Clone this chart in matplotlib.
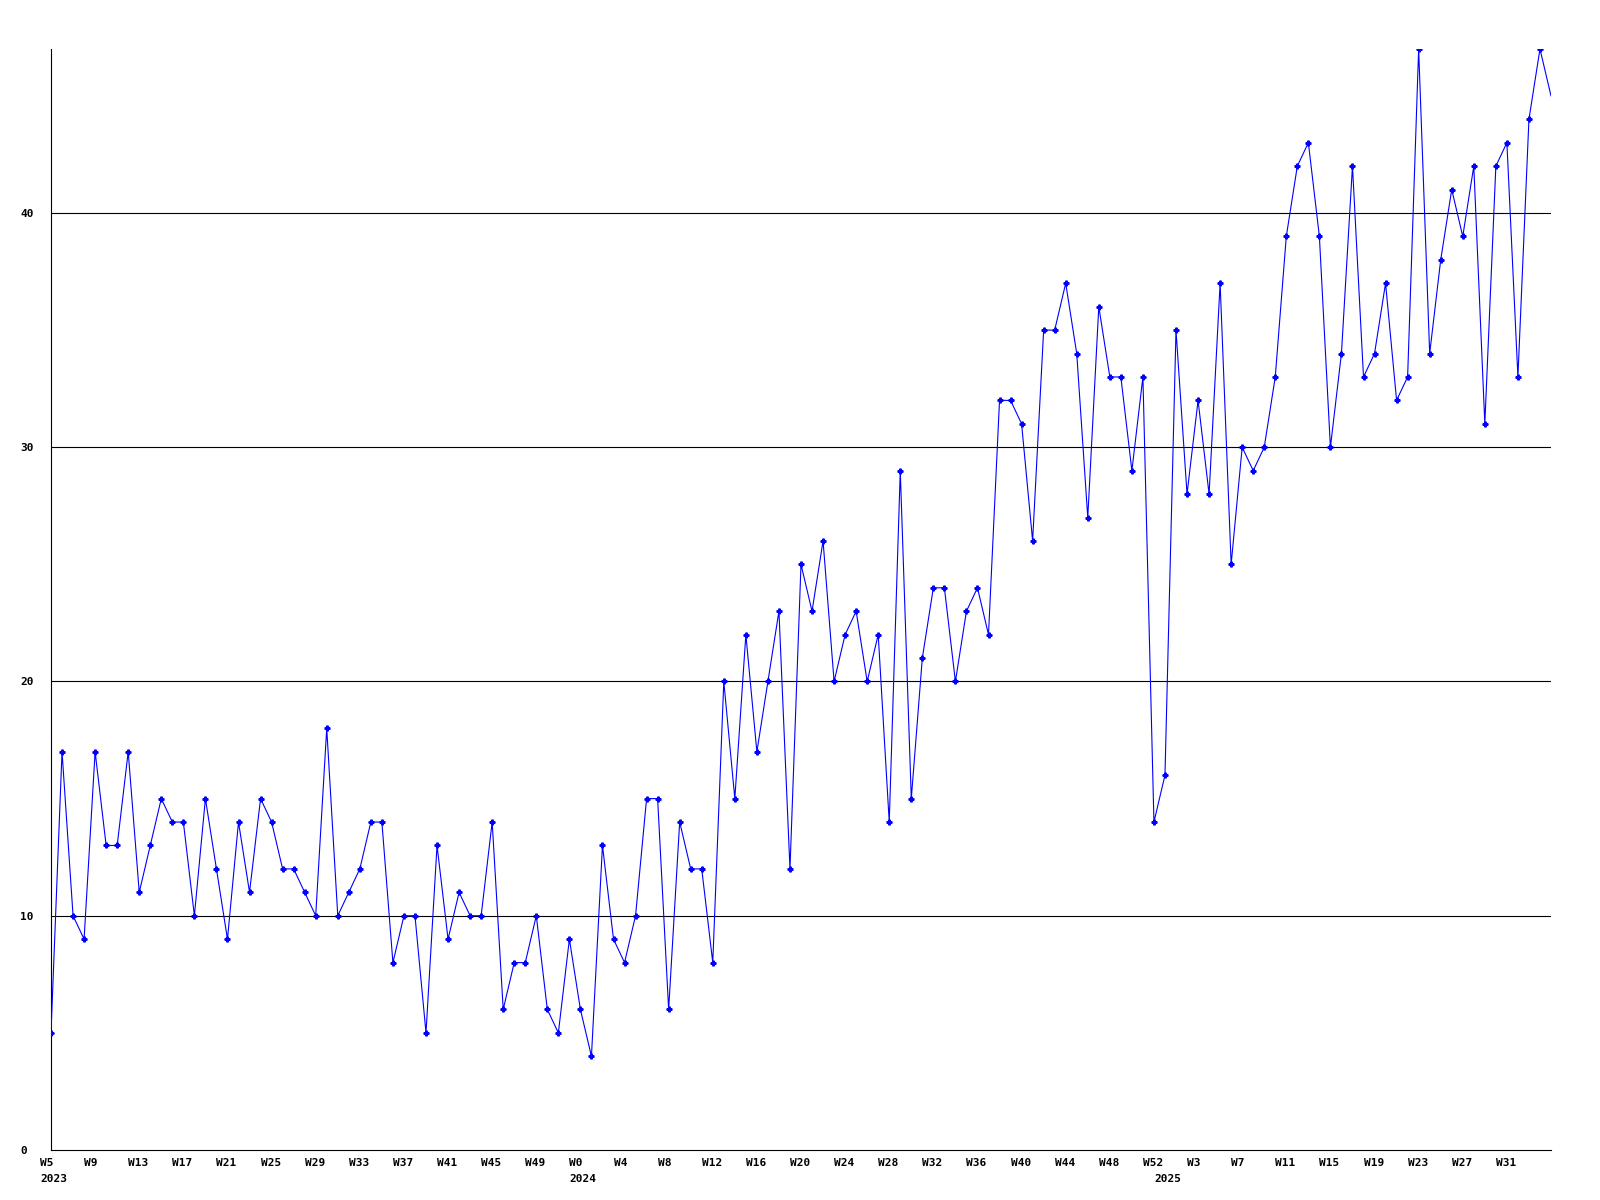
import numpy as np
import matplotlib.pyplot as plt
from matplotlib import transforms

plt.rcParams.update({
    "font.family": "DejaVu Sans Mono",
    "font.weight": "bold",
    "font.size": 8,
})

# weekly counts, 2023 W5 .. 2025 W35
values_2023 = [5, 17, 10, 9, 17, 13, 13, 17, 11, 13, 15, 14, 14, 10, 15, 12,
               9, 14, 11, 15, 14, 12, 12, 11, 10, 18, 10, 11, 12, 14, 14, 8,
               10, 10, 5, 13, 9, 11, 10, 10, 14, 6, 8, 8, 10, 6, 5, 9]
values_2024 = [6, 4, 13, 9, 8, 10, 15, 15, 6, 14, 12, 12, 8, 20, 15, 22,
               17, 20, 23, 12, 25, 23, 26, 20, 22, 23, 20, 22, 14, 29, 15, 21,
               24, 24, 20, 23, 24, 22, 32, 32, 31, 26, 35, 35, 37, 34, 27, 36,
               33, 33, 29, 33, 14]
values_2025 = [16, 35, 28, 32, 28, 37, 25, 30, 29, 30, 33, 39, 42, 43, 39, 30,
               34, 42, 33, 34, 37, 32, 33, 47, 34, 38, 41, 39, 42, 31, 42, 43,
               33, 44, 47, 45]

tick_labels = ["W5", "W9", "W13", "W17", "W21", "W25", "W29", "W33", "W37",
               "W41", "W45", "W49",
               "W0", "W4", "W8", "W12", "W16", "W20", "W24", "W28", "W32",
               "W36", "W40", "W44", "W48", "W52",
               "W3", "W7", "W11", "W15", "W19", "W23", "W27", "W31"]
years = ["2023", "2024", "2025"]
y_ticks = [0, 10, 20, 30, 40]

values = values_2023 + values_2024 + values_2025
x = np.arange(len(values))
year_starts = [0, len(values_2023), len(values_2023) + len(values_2024)]

fig = plt.figure(figsize=(16, 12), dpi=100)
ax = fig.add_axes([51 / 1600, 50 / 1200, 1500 / 1600, 1101 / 1200])

for yv in y_ticks[1:]:
    ax.axhline(yv, color="black", linewidth=0.8, zorder=1)

ax.plot(x, values, color="#0000ff", linewidth=0.8, zorder=3)
ax.plot(x[:-1], values[:-1], linestyle="none", marker="P", markersize=3.5,
        color="#0000ff", zorder=4)

ax.set_xlim(0, len(values) - 1)
ax.set_ylim(0, 47)
ax.set_xticks([])
ax.set_yticks([])
for side in ["top", "right"]:
    ax.spines[side].set_visible(False)
for side in ["left", "bottom"]:
    ax.spines[side].set_color("black")
    ax.spines[side].set_linewidth(0.8)

px = fig.dpi_scale_trans
xt = transforms.blended_transform_factory(ax.transData, ax.transAxes)
for i, lab in enumerate(tick_labels):
    ax.text(i * 4, 0, lab, ha="left", va="center", clip_on=False,
            transform=xt + transforms.ScaledTranslation(-11 / 100, -13 / 100, px))
for pos, yr in zip(year_starts, years):
    ax.text(pos, 0, yr, ha="left", va="center", clip_on=False,
            transform=xt + transforms.ScaledTranslation(-11 / 100, -29 / 100, px))

yt = transforms.blended_transform_factory(ax.transAxes, ax.transData)
for yv in y_ticks:
    ax.text(0, yv, str(yv), ha="left", va="center", clip_on=False,
            transform=yt + transforms.ScaledTranslation(-31 / 100, -1 / 100, px))

fig.savefig("out.png", dpi=100, facecolor="white")
